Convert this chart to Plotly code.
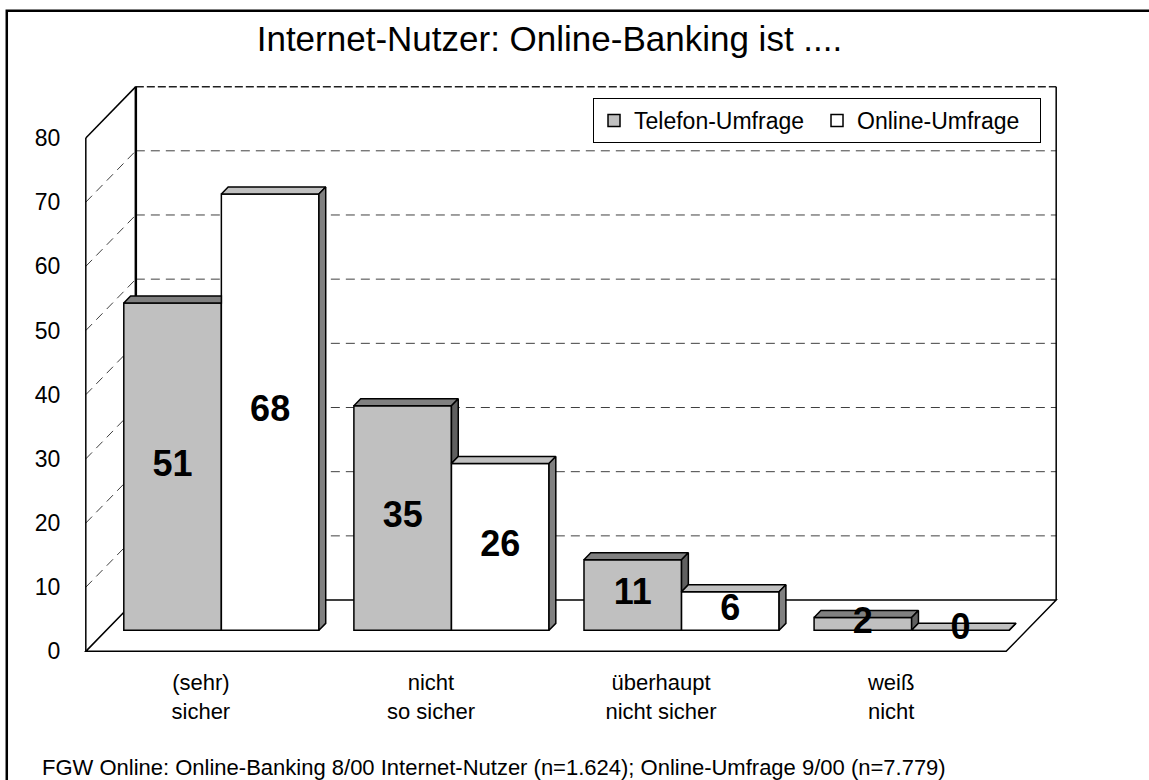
import plotly.graph_objects as go

# ---------------- data ----------------
categories = ["(sehr)<br>sicher", "nicht<br>so sicher", "überhaupt<br>nicht sicher", "weiß<br>nicht"]
telefon = [51, 35, 11, 2]
online = [68, 26, 6, 0]
series_names = ["Telefon-Umfrage", "Online-Umfrage"]
y_ticks = [0, 10, 20, 30, 40, 50, 60, 70, 80]
title_text = "Internet-Nutzer: Online-Banking ist ...."
footer_text = "FGW Online: Online-Banking 8/00 Internet-Nutzer (n=1.624); Online-Umfrage 9/00 (n=7.779)"

# ---------------- styling / geometry ----------------
FONT = "Liberation Sans, Arial, sans-serif"
W, H = 1149, 780
YMAX = 80
DX = 50 / 230      # wall depth in category units
DV = 8.0           # wall depth in value units
ZB = 0.41          # depth fraction of the bar front plane
BZ = 0.136         # bar depth fraction
BARGAP = 0.152
BW = (1 - BARGAP) / 2

PX0, PXU = 86, 230       # pixel of x=-0.5, px per category
PY0, PYU = 651, 6.4125   # pixel of y=0, px per value unit
XPAD, YPAD = 0.06, 1.5
n = len(categories)
xr = [-0.5 - XPAD, n - 0.5 + DX + XPAD]
yr = [-YPAD, YMAX + DV + YPAD]
ml = PX0 - XPAD * PXU
mr = W - (PX0 + (xr[1] + 0.5) * PXU)
mt = PY0 - yr[1] * PYU
mb = H - (PY0 + YPAD * PYU)
PW, PH = W - ml - mr, H - mt - mb


def paper_x(px):
    return (px - ml) / PW


def paper_y(py):
    return (H - mb - py) / PH


C_TEL, C_TEL_TOP, C_TEL_SIDE = "#C0C0C0", "#808080", "#606060"
C_ONL, C_ONL_TOP, C_ONL_SIDE = "#FFFFFF", "#C0C0C0", "#808080"

fig = go.Figure()

xs = list(range(n))
bx = [i + ZB * DX for i in xs]
base = ZB * DV
bdx, bdv = BZ * DX, BZ * DV

fig.add_bar(x=bx, y=telefon, base=base, width=BW, offset=-BW, name=series_names[0],
            marker=dict(color=C_TEL, line=dict(color="black", width=1.5)), hoverinfo="skip")
fig.add_bar(x=bx, y=online, base=base, width=BW, offset=0, name=series_names[1],
            marker=dict(color=C_ONL, line=dict(color="black", width=1.5)), hoverinfo="skip")


def poly(pts, fill):
    fig.add_scatter(x=[p[0] for p in pts] + [pts[0][0]], y=[p[1] for p in pts] + [pts[0][1]],
                    mode="lines", fill="toself", fillcolor=fill,
                    line=dict(color="black", width=1.5), showlegend=False, hoverinfo="skip")


for i in range(n):
    c, g, w = bx[i], telefon[i], online[i]
    x0, x1, x2 = c - BW, c, c + BW
    gt, wt = base + g, base + w
    if w > g:
        poly([(x0, gt), (x1, gt), (x1, gt + bdv), (x0 + bdx, gt + bdv)], C_TEL_TOP)
    else:
        poly([(x0, gt), (x1, gt), (x1 + bdx, gt + bdv), (x0 + bdx, gt + bdv)], C_TEL_TOP)
    if g > w:
        poly([(x1, wt), (x1, gt), (x1 + bdx, gt + bdv), (x1 + bdx, wt + bdv)], C_TEL_SIDE)
    poly([(x1, wt), (x2, wt), (x2 + bdx, wt + bdv), (x1 + bdx, wt + bdv)], C_ONL_TOP)
    poly([(x2, base), (x2, wt), (x2 + bdx, wt + bdv), (x2 + bdx, base + bdv)], C_ONL_SIDE)

# value labels
fig.add_scatter(x=[c - BW / 2 for c in bx] + [c + BW / 2 for c in bx],
                y=[base + v / 2 for v in telefon] + [base + v / 2 for v in online],
                text=[f"<b>{v}</b>" for v in telefon] + [f"<b>{v}</b>" for v in online],
                mode="text", textposition="middle center",
                textfont=dict(family=FONT, size=36, color="black"),
                showlegend=False, hoverinfo="skip")

# walls, floor and gridlines
shapes = []
grid = dict(color="#404040", width=1, dash="9px,6px")
for v in y_ticks[1:-1]:
    shapes.append(dict(type="line", xref="x", yref="y", x0=-0.5 + DX, x1=n - 0.5 + DX,
                       y0=v + DV, y1=v + DV, line=grid, layer="below"))
    shapes.append(dict(type="line", xref="x", yref="y", x0=-0.5, x1=-0.5 + DX,
                       y0=v, y1=v + DV, line=grid, layer="below"))
shapes.append(dict(type="line", xref="x", yref="y", x0=-0.5 + DX, x1=n - 0.5 + DX,
                   y0=YMAX + DV, y1=YMAX + DV, line=dict(color="#202020", width=1.5, dash="8px,3px"),
                   layer="below"))
solid = dict(color="black", width=1.5)
shapes += [
    dict(type="line", xref="x", yref="y", x0=-0.5, x1=-0.5, y0=0, y1=YMAX, line=solid, layer="below"),
    dict(type="line", xref="x", yref="y", x0=-0.5, x1=-0.5 + DX, y0=YMAX, y1=YMAX + DV, line=solid, layer="below"),
    dict(type="line", xref="x", yref="y", x0=-0.5 + DX, x1=-0.5 + DX, y0=DV, y1=YMAX + DV,
         line=dict(color="black", width=2.5), layer="below"),
    dict(type="line", xref="x", yref="y", x0=n - 0.5 + DX, x1=n - 0.5 + DX, y0=DV, y1=YMAX + DV,
         line=solid, layer="below"),
    dict(type="path", xref="x", yref="y",
         path=f"M {-0.5},0 L {n - 0.5},0 L {n - 0.5 + DX},{DV} L {-0.5 + DX},{DV} Z",
         line=solid, layer="below"),
    dict(type="rect", xref="paper", yref="paper", x0=paper_x(7), x1=paper_x(1160),
         y0=paper_y(11), y1=paper_y(790), line=dict(color="black", width=2.5)),
]

fig.update_layout(
    width=W, height=H,
    margin=dict(l=ml, r=mr, t=mt, b=mb, autoexpand=False),
    paper_bgcolor="white", plot_bgcolor="white",
    font=dict(family=FONT, color="black"),
    barmode="overlay",
    showlegend=True,
    shapes=shapes,
    title=dict(text=title_text, font=dict(size=35, family=FONT, color="black"),
               xref="paper", x=paper_x(549.5), xanchor="center",
               yref="container", y=1 - 38.5 / H, yanchor="middle"),
    legend=dict(x=paper_x(593), y=paper_y(98), xanchor="left", yanchor="top",
                orientation="h", bgcolor="white", bordercolor="black", borderwidth=1,
                font=dict(size=23, family=FONT, color="black"), traceorder="normal",
                entrywidth=178, entrywidthmode="pixels"),
    annotations=[dict(text=footer_text, xref="paper", yref="paper", x=paper_x(40), y=paper_y(767.5),
                      xanchor="left", yanchor="middle", showarrow=False,
                      font=dict(size=22, family=FONT, color="black"))],
    xaxis=dict(range=xr, tickvals=xs, ticktext=categories, ticks="outside", ticklen=2,
               tickcolor="rgba(0,0,0,0)", tickfont=dict(size=22, family=FONT, color="black"),
               showgrid=False, zeroline=False, showline=False, fixedrange=True),
    yaxis=dict(range=yr, tickvals=y_ticks, ticks="outside", ticklen=6,
               tickcolor="rgba(0,0,0,0)", tickfont=dict(size=23, family=FONT, color="black"),
               showgrid=False, zeroline=False, showline=False, fixedrange=True),
)

fig.write_html("out.html", config={"displayModeBar": False},
               post_script="document.body.style.margin='0';document.body.style.overflow='hidden';")
